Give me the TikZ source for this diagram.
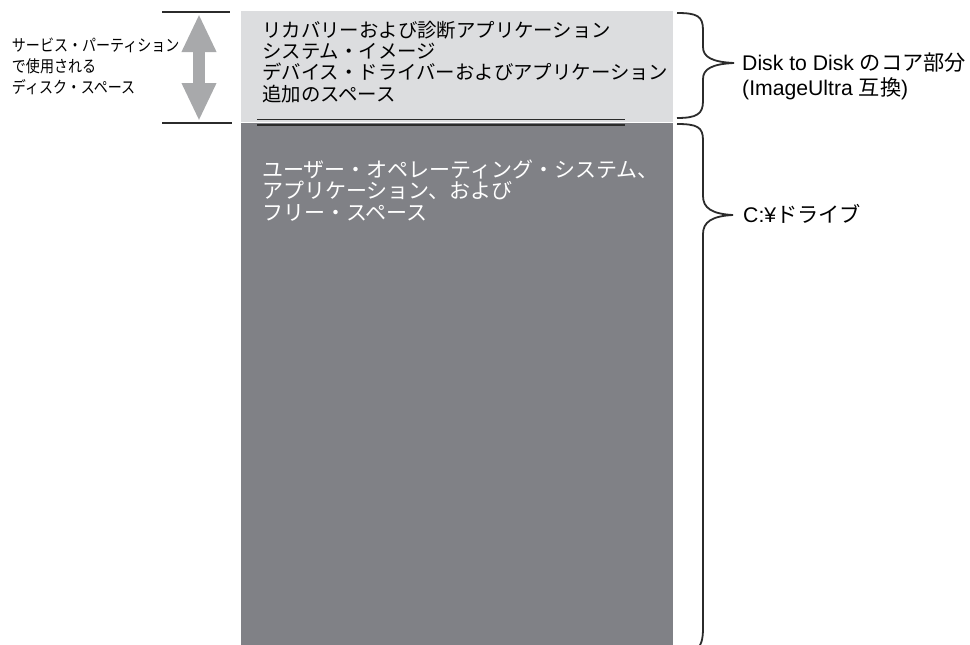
\documentclass[tikz,border=0pt]{standalone}
\usepackage{fontspec}
\setmainfont{Liberation Sans}
\newfontfamily\jp{Noto Sans CJK JP}
\usetikzlibrary{positioning,arrows.meta}
\definecolor{corelight}{HTML}{DCDDDF}
\definecolor{drivegray}{HTML}{808186}
\definecolor{arrowgray}{HTML}{A8A9AB}
\definecolor{inkline}{HTML}{2B2B2B}
\tikzset{
    corebox/.style={fill=corelight,inner sep=0pt,anchor=north west},
    drivebox/.style={fill=drivegray,inner sep=0pt,anchor=north west},
    boxtext/.style={inner sep=0pt,anchor=base west,align=left,font=\jp\fontsize{19.4}{21.3}\selectfont},
    sidetext/.style={inner sep=0pt,anchor=base west,align=left,font=\fontsize{21.2}{25}\selectfont},
    edgeline/.style={draw=inkline,line width=1.2pt},
    bracepath/.style={draw=inkline,line width=1.8pt},
    spanarrow/.style={draw=arrowgray,line width=12pt,{Triangle[length=38pt,width=32pt]}-{Triangle[length=38pt,width=32pt]}},
}
\begin{document}
\begin{tikzpicture}[x=1pt,y=-1pt]
    \useasboundingbox (0,0) rectangle (970,645);
    % partition blocks
    \node[corebox,minimum width=432pt,minimum height=111pt] (core) at (241,11) {};
    \node[drivebox,minimum width=432pt,minimum height=523pt] (drive) at (core.south west) {};

    % double rule at the boundary
    \coordinate (rulea) at (257,119.5);
    \coordinate (ruleb) at (257,125);
    \draw[edgeline] (rulea) -- ++(368,0);
    \draw[edgeline] (ruleb) -- ++(368,0);

    % service partition extent
    \coordinate (svctop) at (162,12);
    \coordinate (svcbot) at (162,123);
    \draw[edgeline] (svctop) -- ++(68,0);
    \draw[edgeline] (svcbot) -- ++(70,0);
    \coordinate (arrtop) at (199,14);
    \coordinate (arrbot) at (199,121);
    \draw[spanarrow] (arrtop) -- (arrbot);

    % multi-line nodes sit on the baseline of their last line
    \node[boxtext] (coretxt) at (262,101) {リカバリーおよび診断アプリケーション\\システム・イメージ\\デバイス・ドライバーおよびアプリケーション\\追加のスペース};
    \node[boxtext,text=white,font=\jp\fontsize{21}{21.3}\selectfont] (drivetxt) at (262,220) {ユーザー・オペレーティング・システム、\\アプリケーション、および\\フリー・スペース};
    \node[boxtext,font=\jp\fontsize{16.5}{21}\selectfont,xscale=0.85,transform shape] (svctxt) at (11.8,93.3) {サービス・パーティション\\で使用される\\ディスク・スペース};

    % braces
    \draw[bracepath] (677,13) .. controls (697,13) and (703,16) .. (703,30) -- (703,47)
        .. controls (703,57) and (712,62) .. (734,63) coordinate (coretip)
        .. controls (712,64) and (703,69) .. (703,79) -- (703,101)
        .. controls (703,114) and (697,118) .. (677,118);
    \draw[bracepath] (677,124) .. controls (697,124) and (703,127) .. (703,140) -- (703,196)
        .. controls (703,208) and (712,214) .. (733,215) coordinate (drivetip)
        .. controls (712,216) and (703,222) .. (703,234) -- (703,628)
        .. controls (703,640) and (701,645) .. (697,650);

    \node[sidetext] (corelbl) at ([xshift=8pt,yshift=-32.6pt]coretip) {Disk to Disk {\jp のコア部分}\\(ImageUltra {\jp 互換})};
    \node[sidetext] (drivelbl) at ([xshift=10pt,yshift=-7.6pt]drivetip) {C:¥{\jp ドライブ}};
\end{tikzpicture}
\end{document}
